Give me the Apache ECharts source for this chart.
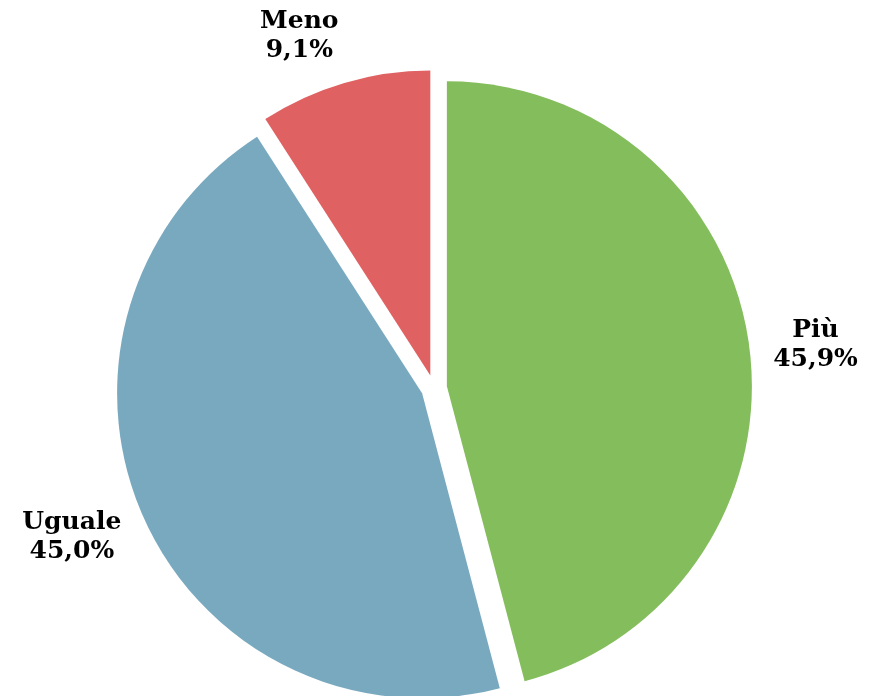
<!DOCTYPE html>
<html>
<head>
<meta charset="utf-8">
<script src="https://cdn.jsdelivr.net/npm/echarts@6/dist/echarts.min.js"></script>
<style>
  html, body { margin: 0; padding: 0; background: #fff; }
  #chart { width: 889px; height: 696px; }
</style>
</head>
<body>
<div id="chart"></div>
<script>
// categorie e valori (%)
var categories = ['Più', 'Uguale', 'Meno']
var values = [45.9, 45.0, 9.1]
var colors = ['#84bd5c', '#79a9bf', '#e06161']
// posizione etichette (lunghezza linea invisibile)
var labelLen = [19, 52, 49]
var labelLen2 = [0, -31, -13]

function fmt (v) {
  return v.toFixed(1).replace('.', ',') + '%'
}

var seriesData = categories.map(function (name, i) {
  return {
    name: name,
    value: values[i],
    selected: true,
    itemStyle: { color: colors[i] },
    labelLine: { show: false, length: labelLen[i], length2: labelLen2[i] }
  }
})

var chart = echarts.init(document.getElementById('chart'))
chart.setOption({
  animation: false,
  series: [{
    type: 'pie',
    center: [434, 388],
    radius: 305,
    startAngle: 90,
    clockwise: true,
    selectedMode: 'multiple',
    selectedOffset: 13,
    avoidLabelOverlap: false,
    data: seriesData,
    label: {
      show: true,
      position: 'outside',
      formatter: function (p) {
        return '{t|' + p.name + '}\n{t|' + fmt(p.value) + '}'
      },
      rich: {
        t: {
          fontFamily: 'DejaVu Serif',
          fontWeight: 'bold',
          fontSize: 25,
          lineHeight: 29,
          color: '#000',
          align: 'center'
        }
      }
    },
    labelLine: { show: false },
    emphasis: { disabled: true }
  }]
})
</script>
</body>
</html>
